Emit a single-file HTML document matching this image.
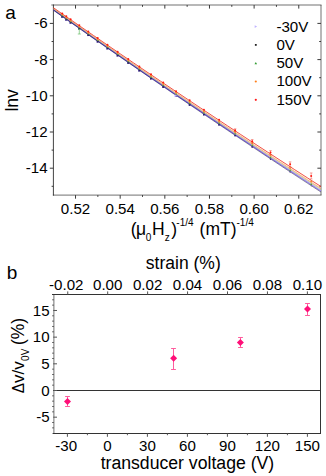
<!DOCTYPE html>
<html><head><meta charset="utf-8"><title>figure</title>
<style>html,body{margin:0;padding:0;background:#fff}svg{display:block}</style></head>
<body><svg width="326" height="476" viewBox="0 0 326 476">
<rect width="326" height="476" fill="#fff"/>
<g stroke="#3a3a3a" stroke-width="1" fill="none" shape-rendering="auto">
<path d="M53.4 4.5V195.6" stroke="#444"/>
<path d="M51.3 5.0H321.5M321.0 5.0V195.1M52.9 195.1H321.5" stroke="#1a1a1a" stroke-opacity="0.62"/>
<path d="M75.53 195.1v3.6 M75.53 5.0v3.6 M97.85 195.1v1.8 M97.85 5.0v1.8 M120.18 195.1v3.6 M120.18 5.0v3.6 M142.50 195.1v1.8 M142.50 5.0v1.8 M164.83 195.1v3.6 M164.83 5.0v3.6 M187.15 195.1v1.8 M187.15 5.0v1.8 M209.48 195.1v3.6 M209.48 5.0v3.6 M231.80 195.1v1.8 M231.80 5.0v1.8 M254.12 195.1v3.6 M254.12 5.0v3.6 M276.45 195.1v1.8 M276.45 5.0v1.8 M298.77 195.1v3.6 M298.77 5.0v3.6 M53.4 186.30h-1.8 M321.0 186.30h-1.80 M53.4 168.20h-3.6 M321.0 168.20h-3.60 M53.4 150.10h-1.8 M321.0 150.10h-1.80 M53.4 132.00h-3.6 M321.0 132.00h-3.60 M53.4 113.90h-1.8 M321.0 113.90h-1.80 M53.4 95.80h-3.6 M321.0 95.80h-3.60 M53.4 77.70h-1.8 M321.0 77.70h-1.80 M53.4 59.60h-3.6 M321.0 59.60h-3.60 M53.4 41.50h-1.8 M321.0 41.50h-1.80 M53.4 23.40h-3.6 M321.0 23.40h-3.60"/>
</g>
<g font-family='"Liberation Sans", Arial, sans-serif' font-size="15.1" fill="#000">
<text x="75.53" y="214" text-anchor="middle">0.52</text>
<text x="120.18" y="214" text-anchor="middle">0.54</text>
<text x="164.83" y="214" text-anchor="middle">0.56</text>
<text x="209.47" y="214" text-anchor="middle">0.58</text>
<text x="254.12" y="214" text-anchor="middle">0.60</text>
<text x="298.77" y="214" text-anchor="middle">0.62</text>
<text x="47.6" y="28.30" text-anchor="end">-6</text>
<text x="47.6" y="64.50" text-anchor="end">-8</text>
<text x="47.6" y="100.70" text-anchor="end">-10</text>
<text x="47.6" y="136.90" text-anchor="end">-12</text>
<text x="47.6" y="173.10" text-anchor="end">-14</text>
</g>
<polygon points="53.40,7.70 66.78,17.01 80.16,26.28 93.54,35.51 106.92,44.71 120.30,53.86 133.68,62.98 147.06,72.05 160.44,81.09 173.82,90.10 187.20,99.06 200.58,107.98 213.96,116.87 227.34,125.71 240.72,134.52 254.10,143.29 267.48,152.02 280.86,160.71 294.24,169.37 307.62,177.98 321.00,186.56 321.00,190.96 307.62,182.27 294.24,173.55 280.86,164.78 267.48,155.98 254.10,147.14 240.72,138.26 227.34,129.34 213.96,120.39 200.58,111.39 187.20,102.36 173.82,93.29 160.44,84.17 147.06,75.02 133.68,65.84 120.30,56.61 106.92,47.35 93.54,38.04 80.16,28.70 66.78,19.32 53.40,9.90" fill="#ffd8c0" opacity="0.32"/>
<defs><linearGradient id="bl" x1="0" y1="0" x2="1" y2="0"><stop offset="0" stop-color="#5234c8"/><stop offset="0.55" stop-color="#6a4ce0"/><stop offset="1" stop-color="#9c88f6"/></linearGradient></defs>
<g fill="none">
<polyline stroke="url(#bl)" stroke-width="1.2" points="53.40,9.80 66.78,19.22 80.16,28.61 93.54,37.96 106.92,47.27 120.30,56.54 133.68,65.77 147.06,74.96 160.44,84.11 173.82,93.23 187.20,102.31 200.58,111.35 213.96,120.35 227.34,129.31 240.72,138.23 254.10,147.11 267.48,155.96 280.86,164.77 294.24,173.54 307.62,182.27 321.00,190.96"/>
<polyline stroke="#1a1440" stroke-width="0.9" stroke-opacity="0.55" points="53.40,10.10 66.78,19.56 80.16,28.99 93.54,38.38 106.92,47.73 120.30,57.04 133.68,66.31 147.06,75.54 160.44,84.73 173.82,93.89 187.20,103.01 200.58,112.09 213.96,121.13 227.34,130.13 240.72,139.09 254.10,148.01 267.48,156.90 280.86,165.75 294.24,174.56 307.62,183.33 321.00,192.06"/>
<polyline stroke="#6ab06a" stroke-width="0.4" points="53.40,9.20 66.78,18.58 80.16,27.93 93.54,37.24 106.92,46.51 120.30,55.74 133.68,64.93 147.06,74.08 160.44,83.19 173.82,92.27 187.20,101.31 200.58,110.31 213.96,119.27 227.34,128.19 240.72,137.07 254.10,145.91 267.48,154.72 280.86,163.49 294.24,172.22 307.62,180.91 321.00,189.56"/>
<polyline stroke="#f58a3a" stroke-width="0.6" points="53.40,8.60 66.78,17.96 80.16,27.29 93.54,36.58 106.92,45.83 120.30,55.04 133.68,64.21 147.06,73.34 160.44,82.43 173.82,91.49 187.20,100.51 200.58,109.49 213.96,118.43 227.34,127.33 240.72,136.19 254.10,145.01 267.48,153.80 280.86,162.55 294.24,171.26 307.62,179.93 321.00,188.56"/>
<polyline stroke="#ee2a1c" stroke-width="0.8" points="53.40,7.70 66.78,17.01 80.16,26.28 93.54,35.51 106.92,44.71 120.30,53.86 133.68,62.98 147.06,72.05 160.44,81.09 173.82,90.10 187.20,99.06 200.58,107.98 213.96,116.87 227.34,125.71 240.72,134.52 254.10,143.29 267.48,152.02 280.86,160.71 294.24,169.37 307.62,177.98 321.00,186.56"/>
</g>
<g>
<path d="M310.87 185.00L311.62 185.39L310.87 185.79Z" fill="#4a2cc8"/>
<path d="M289.62 171.05L290.72 171.63L289.62 172.20Z" fill="#4a2cc8"/>
<path d="M269.90 158.03L271.28 158.75L269.90 159.47Z" fill="#4a2cc8"/>
<path d="M251.53 145.84L253.12 146.67L251.53 147.50Z" fill="#4a2cc8"/>
<path d="M234.35 134.38L236.11 135.30L234.35 136.22Z" fill="#4a2cc8"/>
<path d="M218.23 123.57L220.12 124.56L218.23 125.55Z" fill="#4a2cc8"/>
<path d="M203.05 113.35L205.04 114.39L203.05 115.43Z" fill="#4a2cc8"/>
<path d="M188.72 103.67L190.79 104.75L188.72 105.83Z" fill="#4a2cc8"/>
<path d="M175.16 94.46L177.29 95.57L175.16 96.68Z" fill="#4a2cc8"/>
<path d="M162.29 85.69L164.47 86.83L162.29 87.96Z" fill="#4a2cc8"/>
<path d="M150.06 77.32L152.28 78.48L150.06 79.63Z" fill="#4a2cc8"/>
<path d="M138.40 69.32L140.65 70.49L138.40 71.66Z" fill="#4a2cc8"/>
<path d="M127.28 61.66L129.54 62.84L127.28 64.02Z" fill="#4a2cc8"/>
<path d="M116.65 54.31L118.92 55.49L116.65 56.68Z" fill="#4a2cc8"/>
<path d="M106.47 47.25L108.75 48.44L106.47 49.63Z" fill="#4a2cc8"/>
<path d="M96.70 40.46L98.99 41.65L96.70 42.85Z" fill="#4a2cc8"/>
<path d="M87.33 33.92L89.62 35.12L87.33 36.32Z" fill="#4a2cc8"/>
<path d="M78.31 27.61L80.61 28.81L78.31 30.01Z" fill="#4a2cc8"/>
<path d="M69.63 21.53L71.93 22.73L69.63 23.93Z" fill="#4a2cc8"/>
<path d="M61.27 15.65L63.57 16.85L61.27 18.05Z" fill="#4a2cc8"/>
<path d="M65.31 18.49L67.61 19.69L65.31 20.89Z" fill="#4a2cc8"/>
<rect x="310.90" y="185.77" width="0.59" height="0.59" fill="#2a2060"/>
<rect x="289.66" y="171.80" width="0.87" height="0.87" fill="#2a2060"/>
<rect x="269.96" y="158.76" width="1.08" height="1.08" fill="#2a2060"/>
<rect x="251.60" y="146.54" width="1.25" height="1.25" fill="#2a2060"/>
<rect x="234.43" y="135.05" width="1.38" height="1.38" fill="#2a2060"/>
<rect x="218.31" y="124.22" width="1.48" height="1.48" fill="#2a2060"/>
<rect x="203.14" y="113.96" width="1.56" height="1.56" fill="#2a2060"/>
<rect x="188.81" y="104.24" width="1.62" height="1.62" fill="#2a2060"/>
<rect x="175.25" y="95.00" width="1.67" height="1.67" fill="#2a2060"/>
<rect x="162.39" y="86.20" width="1.71" height="1.71" fill="#2a2060"/>
<rect x="150.16" y="77.80" width="1.73" height="1.73" fill="#2a2060"/>
<rect x="138.50" y="69.77" width="1.76" height="1.76" fill="#2a2060"/>
<rect x="127.38" y="62.07" width="1.77" height="1.77" fill="#2a2060"/>
<rect x="116.75" y="54.70" width="1.78" height="1.78" fill="#2a2060"/>
<rect x="106.57" y="47.61" width="1.79" height="1.79" fill="#2a2060"/>
<rect x="96.80" y="40.79" width="1.79" height="1.79" fill="#2a2060"/>
<rect x="87.43" y="34.22" width="1.80" height="1.80" fill="#2a2060"/>
<rect x="78.41" y="27.89" width="1.80" height="1.80" fill="#2a2060"/>
<rect x="69.73" y="21.78" width="1.80" height="1.80" fill="#2a2060"/>
<rect x="61.37" y="15.88" width="1.80" height="1.80" fill="#2a2060"/>
<rect x="65.41" y="18.73" width="1.80" height="1.80" fill="#2a2060"/>
<path d="M311.20 183.02L312.30 185.02L310.10 185.02Z" fill="#5a9a3a"/>
<path d="M290.10 169.11L291.20 171.11L289.00 171.11Z" fill="#5a9a3a"/>
<path d="M270.50 156.14L271.60 158.14L269.40 158.14Z" fill="#5a9a3a"/>
<path d="M252.22 143.99L253.32 145.99L251.12 145.99Z" fill="#5a9a3a"/>
<path d="M235.12 132.57L236.22 134.57L234.02 134.57Z" fill="#5a9a3a"/>
<path d="M219.05 121.80L220.15 123.80L217.95 123.80Z" fill="#5a9a3a"/>
<path d="M203.92 111.62L205.02 113.62L202.82 113.62Z" fill="#5a9a3a"/>
<path d="M189.62 101.97L190.72 103.97L188.52 103.97Z" fill="#5a9a3a"/>
<path d="M176.09 92.80L177.19 94.80L174.99 94.80Z" fill="#5a9a3a"/>
<path d="M163.24 84.07L164.34 86.07L162.14 86.07Z" fill="#5a9a3a"/>
<path d="M151.02 75.73L152.12 77.73L149.92 77.73Z" fill="#5a9a3a"/>
<path d="M139.38 67.76L140.48 69.76L138.28 69.76Z" fill="#5a9a3a"/>
<path d="M128.27 60.13L129.37 62.13L127.17 62.13Z" fill="#5a9a3a"/>
<path d="M117.64 52.82L118.74 54.82L116.54 54.82Z" fill="#5a9a3a"/>
<path d="M107.46 45.79L108.56 47.79L106.36 47.79Z" fill="#5a9a3a"/>
<path d="M97.70 39.03L98.80 41.03L96.60 41.03Z" fill="#5a9a3a"/>
<path d="M88.32 32.52L89.42 34.52L87.22 34.52Z" fill="#5a9a3a"/>
<path d="M79.31 26.24L80.41 28.24L78.21 28.24Z" fill="#5a9a3a"/>
<path d="M70.63 20.18L71.73 22.18L69.53 22.18Z" fill="#5a9a3a"/>
<path d="M62.27 14.32L63.37 16.32L61.17 16.32Z" fill="#5a9a3a"/>
<path d="M66.31 17.15L67.41 19.15L65.21 19.15Z" fill="#5a9a3a"/>
<circle cx="311.20" cy="181.50" r="1.0" fill="#f58a3a"/>
<circle cx="290.10" cy="167.95" r="1.0" fill="#f58a3a"/>
<circle cx="270.50" cy="155.26" r="1.0" fill="#f58a3a"/>
<circle cx="252.22" cy="143.33" r="1.0" fill="#f58a3a"/>
<circle cx="235.12" cy="132.10" r="1.0" fill="#f58a3a"/>
<circle cx="219.05" cy="121.48" r="1.0" fill="#f58a3a"/>
<circle cx="203.92" cy="111.41" r="1.0" fill="#f58a3a"/>
<circle cx="189.62" cy="101.86" r="1.0" fill="#f58a3a"/>
<circle cx="176.09" cy="92.76" r="1.0" fill="#f58a3a"/>
<circle cx="163.24" cy="84.09" r="1.0" fill="#f58a3a"/>
<circle cx="151.02" cy="75.81" r="1.0" fill="#f58a3a"/>
<circle cx="139.38" cy="67.88" r="1.0" fill="#f58a3a"/>
<circle cx="128.27" cy="60.29" r="1.0" fill="#f58a3a"/>
<circle cx="117.64" cy="53.00" r="1.0" fill="#f58a3a"/>
<circle cx="107.46" cy="45.99" r="1.0" fill="#f58a3a"/>
<circle cx="97.70" cy="39.25" r="1.0" fill="#f58a3a"/>
<circle cx="88.32" cy="32.76" r="1.0" fill="#f58a3a"/>
<circle cx="79.31" cy="26.50" r="1.0" fill="#f58a3a"/>
<circle cx="70.63" cy="20.45" r="1.0" fill="#f58a3a"/>
<circle cx="62.27" cy="14.61" r="1.0" fill="#f58a3a"/>
<circle cx="66.31" cy="17.43" r="1.0" fill="#f58a3a"/>
<path d="M311.20 172.94V178.95M309.90 172.94h2.6M309.90 178.95h2.6" stroke="#ee2a1c" stroke-width="0.5" fill="none" opacity="0.8"/>
<circle cx="311.20" cy="175.95" r="1.0" fill="#ff1a10"/>
<path d="M290.10 161.87V166.74M288.80 161.87h2.6M288.80 166.74h2.6" stroke="#ee2a1c" stroke-width="0.5" fill="none" opacity="0.8"/>
<circle cx="290.10" cy="164.31" r="1.0" fill="#ff1a10"/>
<path d="M270.50 150.60V154.59M269.20 150.60h2.6M269.20 154.59h2.6" stroke="#ee2a1c" stroke-width="0.5" fill="none" opacity="0.8"/>
<circle cx="270.50" cy="152.59" r="1.0" fill="#ff1a10"/>
<path d="M252.22 139.52V142.82M250.92 139.52h2.6M250.92 142.82h2.6" stroke="#ee2a1c" stroke-width="0.5" fill="none" opacity="0.8"/>
<circle cx="252.22" cy="141.17" r="1.0" fill="#ff1a10"/>
<path d="M235.12 128.82V131.57M233.82 128.82h2.6M233.82 131.57h2.6" stroke="#ee2a1c" stroke-width="0.5" fill="none" opacity="0.8"/>
<circle cx="235.12" cy="130.20" r="1.0" fill="#ff1a10"/>
<circle cx="219.05" cy="119.72" r="1.0" fill="#ff1a10"/>
<circle cx="203.92" cy="109.75" r="1.0" fill="#ff1a10"/>
<circle cx="189.62" cy="100.25" r="1.0" fill="#ff1a10"/>
<circle cx="176.09" cy="91.21" r="1.0" fill="#ff1a10"/>
<circle cx="163.24" cy="82.58" r="1.0" fill="#ff1a10"/>
<circle cx="151.02" cy="74.33" r="1.0" fill="#ff1a10"/>
<circle cx="139.38" cy="66.45" r="1.0" fill="#ff1a10"/>
<circle cx="128.27" cy="58.89" r="1.0" fill="#ff1a10"/>
<circle cx="117.64" cy="51.64" r="1.0" fill="#ff1a10"/>
<circle cx="107.46" cy="44.68" r="1.0" fill="#ff1a10"/>
<circle cx="97.70" cy="37.97" r="1.0" fill="#ff1a10"/>
<circle cx="88.32" cy="31.52" r="1.0" fill="#ff1a10"/>
<circle cx="79.31" cy="25.29" r="1.0" fill="#ff1a10"/>
<circle cx="70.63" cy="19.28" r="1.0" fill="#ff1a10"/>
<circle cx="62.27" cy="13.47" r="1.0" fill="#ff1a10"/>
<circle cx="66.31" cy="16.28" r="1.0" fill="#ff1a10"/>
</g>
<path d="M174.6 94.3L177.4 95.8L174.6 97.3Z" fill="#b9a8ff"/>
<path d="M79.3 29.5V34M77.8 34h3M78.1 29.5h2.4" stroke="#6bbf6b" stroke-width="0.7" fill="none"/>
<g font-family='"Liberation Sans", Arial, sans-serif' font-size="15.1" fill="#000">
<text x="276.4" y="31.50">-30V</text>
<path d="M254.70000000000002 25.3L257.1 26.6L254.70000000000002 27.900000000000002Z" fill="#c0b4ff"/>
<text x="276.4" y="49.80">0V</text>
<rect x="254.9" y="44.00000000000001" width="1.8" height="1.8" fill="#222"/>
<text x="276.4" y="68.10">50V</text>
<path d="M255.8 61.900000000000006L257.1 64.3L254.5 64.3Z" fill="#2e9a2e"/>
<text x="276.4" y="86.40">100V</text>
<circle cx="255.8" cy="81.5" r="1.1" fill="#ff7f1a"/>
<text x="276.4" y="104.70">150V</text>
<circle cx="255.8" cy="99.80000000000001" r="1.1" fill="#ff1a1a"/>
</g>
<g font-family='"Liberation Sans", Arial, sans-serif' fill="#000">
<text x="5.3" y="19.2" font-size="19">a</text>
<text x="6.8" y="278.7" font-size="19">b</text>
<text transform="translate(18.2,111.6) rotate(-90)" font-size="17.6">lnv</text>
<text font-size="17.5" y="234.6"><tspan x="130.8">(</tspan><tspan x="135.9">μ</tspan><tspan x="152.0">H</tspan><tspan x="171.2">)</tspan><tspan x="199.6">(mT)</tspan></text>
<text font-size="10" y="240.5"><tspan x="145.8">0</tspan><tspan x="164.8">z</tspan></text>
<text font-size="10" y="226.1"><tspan x="176.3">-1/4</tspan><tspan x="236.5">-1/4</tspan></text>
</g>
<g stroke="#333" stroke-width="1" fill="none">
<path d="M53.9 294.0V434.0" stroke="#1a1a1a" stroke-opacity="0.62"/>
<path d="M52 294.5H321.0M320.5 294.5V433.5M52.6 433.5H321.0M53 390.50H320.5"/>
<path d="M67.40 433.5v3.3 M87.40 433.5v1.7 M107.40 433.5v3.3 M127.40 433.5v1.7 M147.40 433.5v3.3 M167.40 433.5v1.7 M187.40 433.5v3.3 M207.40 433.5v1.7 M227.40 433.5v3.3 M247.40 433.5v1.7 M267.40 433.5v3.3 M287.40 433.5v1.7 M307.40 433.5v3.3 M67.75 294.5v-3.1 M107.69 294.5v-3.1 M147.63 294.5v-3.1 M187.57 294.5v-3.1 M227.51 294.5v-3.1 M267.45 294.5v-3.1 M307.39 294.5v-3.1 M52.2 427.85H53.9 M52.2 422.51H53.9 M53.2 417.18H57 M52.2 411.84H53.9 M52.2 406.50H53.9 M52.2 401.17H53.9 M52.2 395.83H53.9 M53.2 390.50H57 M52.2 385.17H53.9 M52.2 379.83H53.9 M52.2 374.50H53.9 M52.2 369.16H53.9 M53.2 363.82H57 M52.2 358.49H53.9 M52.2 353.15H53.9 M52.2 347.82H53.9 M52.2 342.49H53.9 M53.2 337.15H57 M52.2 331.81H53.9 M52.2 326.48H53.9 M52.2 321.14H53.9 M52.2 315.81H53.9 M53.2 310.48H57 M52.2 305.14H53.9 M52.2 299.81H53.9" stroke="#555"/>
</g>
<g font-family='"Liberation Sans", Arial, sans-serif' font-size="15.1" fill="#000">
<text x="66.20" y="451.2" text-anchor="middle">-30</text>
<text x="107.40" y="451.2" text-anchor="middle">0</text>
<text x="147.40" y="451.2" text-anchor="middle">30</text>
<text x="187.40" y="451.2" text-anchor="middle">60</text>
<text x="227.40" y="451.2" text-anchor="middle">90</text>
<text x="267.40" y="451.2" text-anchor="middle">120</text>
<text x="307.40" y="451.2" text-anchor="middle">150</text>
<text x="66.25" y="289.6" text-anchor="middle">-0.02</text>
<text x="107.69" y="289.6" text-anchor="middle">0.00</text>
<text x="147.63" y="289.6" text-anchor="middle">0.02</text>
<text x="187.57" y="289.6" text-anchor="middle">0.04</text>
<text x="227.51" y="289.6" text-anchor="middle">0.06</text>
<text x="267.45" y="289.6" text-anchor="middle">0.08</text>
<text x="307.39" y="289.6" text-anchor="middle">0.10</text>
<text x="49.6" y="422.38" text-anchor="end">-5</text>
<text x="49.6" y="395.70" text-anchor="end">0</text>
<text x="49.6" y="369.02" text-anchor="end">5</text>
<text x="49.6" y="342.35" text-anchor="end">10</text>
<text x="49.6" y="315.68" text-anchor="end">15</text>
</g>
<g font-family='"Liberation Sans", Arial, sans-serif' fill="#000">
<text x="187.4" y="468.8" font-size="17.65" text-anchor="middle">transducer voltage (V)</text>
<text x="183.3" y="269.1" font-size="17.5" text-anchor="middle">strain (%)</text>
<g transform="translate(23.5,393.5) rotate(-90)"><text font-size="17" y="0"><tspan x="0.2" textLength="10.2" lengthAdjust="spacingAndGlyphs">Δ</tspan><tspan x="10.5">v/v</tspan><tspan x="48.4" font-size="17.5">(%)</tspan></text><text font-size="10" x="32.6" y="5.4">0V</text></g>
</g>
<path d="M67.5 396.5V406.5M65.10 396.5h4.8M65.10 406.5h4.8" stroke="#ff5c9d" stroke-width="1" fill="none"/>
<path d="M67.50 397.9L71.00 401.4L67.50 404.9L64.00 401.4Z" fill="#ff0f78"/>
<path d="M173.5 348.5V369.5M171.10 348.5h4.8M171.10 369.5h4.8" stroke="#ff5c9d" stroke-width="1" fill="none"/>
<path d="M173.60 354.8L177.10 358.3L173.60 361.8L170.10 358.3Z" fill="#ff0f78"/>
<path d="M240.5 337.5V347.5M238.10 337.5h4.8M238.10 347.5h4.8" stroke="#ff5c9d" stroke-width="1" fill="none"/>
<path d="M240.40 339.0L243.90 342.5L240.40 346.0L236.90 342.5Z" fill="#ff0f78"/>
<path d="M307.5 303.5V315.5M305.10 303.5h4.8M305.10 315.5h4.8" stroke="#ff5c9d" stroke-width="1" fill="none"/>
<path d="M307.50 305.5L311.00 309.0L307.50 312.5L304.00 309.0Z" fill="#ff0f78"/>
</svg></body></html>
